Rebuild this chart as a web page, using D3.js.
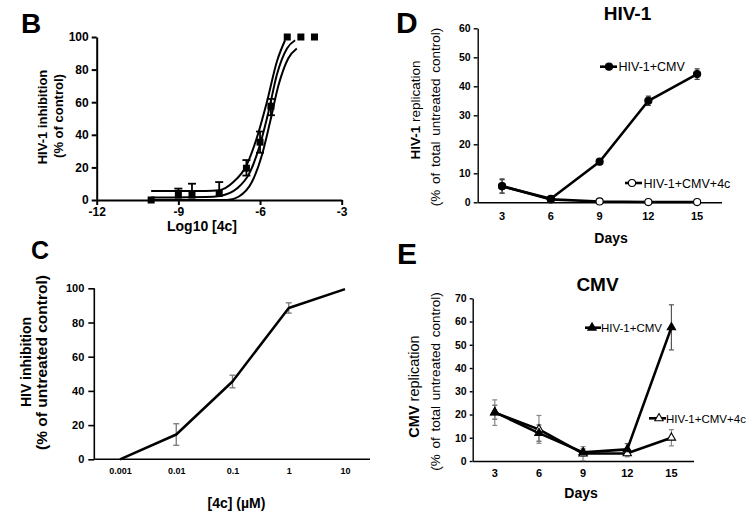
<!DOCTYPE html>
<html>
<head>
<meta charset="utf-8">
<script src="https://cdn.jsdelivr.net/npm/d3@7"></script>
<style>
  html, body { margin: 0; padding: 0; background: #fff; }
  svg { display: block; }
  text { font-family: 'Liberation Sans', Arial, sans-serif; fill: #000; }
</style>
</head>
<body>
<svg id="chart" width="750" height="523"></svg>
<script>
// ---------------- Panel B data ----------------
const bTickX = [-12, -9, -6, -3];
const bTickY = [0, 20, 40, 60, 80, 100];
const bLogConc = [-10, -9, -8.5, -7.5, -6.5, -6, -5.6, -5, -4.5, -4];
const bInhib   = [0, 3, 3, 4, 19.5, 35.5, 57.5, 100, 100, 100];
const bErrHi   = [null, 7, 10, 11, 24.5, 42, 62, null, null, null];
const bErrLo   = [null, null, null, null, 15, 29, 52, null, null, null];
const bFitX    = [-10, -8, -7.47, -6.85, -6.36, -6.0, -5.69, -5.38, -5.01, -4.71];
const bFitY    = [1.5, 1.8, 2.5, 7, 17.4, 34, 54, 77, 93, 98];
const bUpperX  = [-10, -8, -7.5, -6.98, -6.49, -6.12, -5.75, -5.38, -5.08];
const bUpperY  = [5.5, 5.5, 6, 11, 21.5, 38, 60, 85, 98];
const bLowerX  = [-10, -7.2, -6.79, -6.30, -5.93, -5.63, -5.32, -4.96, -4.65];
const bLowerY  = [0, 0, 2, 11, 27.6, 48, 70.5, 87, 93];

// ---------------- Panel C data ----------------
const cConc  = [0.001, 0.01, 0.1, 1, 10];
const cTickLabels = ["0.001", "0.01", "0.1", "1", "10"];
const cInhib = [0, 14.5, 45.5, 88.5, 99.5];
const cErr   = [null, 6.3, 3.7, 3, null];
const cTickY = [0, 20, 40, 60, 80, 100];

// ---------------- Panel D data ----------------
const days = ["3", "6", "9", "12", "15"];
const dHivCmv      = [5.5, 1.2, 14, 35, 44.2];
const dHivCmvErr   = [2.3, 0.5, 1, 1.6, 1.8];
const dHivCmv4c    = [5.6, 1.0, 0.3, 0.1, 0.1];
const dHivCmv4cErr = [2.5, 0.5, 0, 0, 0];
const dTickY = [0, 10, 20, 30, 40, 50, 60];

// ---------------- Panel E data ----------------
const eHivCmv      = [21, 12, 3.7, 5, 57.5];
const eHivCmvErr   = [3, 3.5, 1.5, 2.5, 9.7];
const eHivCmv4c    = [20.8, 13.6, 3.2, 3.3, 10];
const eHivCmv4cErr = [5.5, 6, 3, 1.5, 3.5];
const eTickY = [0, 10, 20, 30, 40, 50, 60, 70];

const legendNames = ["HIV-1+CMV", "HIV-1+CMV+4c"];

const svg = d3.select("#chart");

function styleAxis(g, sw, fs, bold) {
  g.select(".domain").attr("stroke", "#000").attr("stroke-width", sw);
  g.selectAll(".tick line").attr("stroke", "#000").attr("stroke-width", sw);
  g.selectAll(".tick text")
    .attr("font-family", "'Liberation Sans', Arial, sans-serif")
    .attr("font-size", fs)
    .attr("font-weight", bold ? "bold" : "normal")
    .attr("fill", "#000");
}

function panelLetter(txt, x, y, size) {
  svg.append("text").attr("x", x).attr("y", y).attr("font-size", size)
    .attr("font-weight", "bold").text(txt);
}

function vText(x, y, size, parts, extra) {
  const t = svg.append("text")
    .attr("transform", `translate(${x},${y}) rotate(-90)`)
    .attr("text-anchor", "middle")
    .attr("font-size", size);
  if (extra) extra(t);
  parts.forEach(p => t.append("tspan").attr("font-weight", p[1] ? "bold" : "normal").text(p[0]));
  return t;
}

// ================= Panel B =================
(function () {
  const x = d3.scaleLinear().domain([-12, -3]).range([96.7, 341.7]);
  const y = d3.scaleLinear().domain([0, 100]).range([200, 37]);

  const line = d3.line().x(d => x(d[0])).y(d => y(d[1])).curve(d3.curveMonotoneX);
  const curves = [
    d3.zip(bUpperX, bUpperY),
    d3.zip(bFitX, bFitY),
    d3.zip(bLowerX, bLowerY)
  ];
  svg.append("g").selectAll("path").data(curves).join("path")
    .attr("d", line).attr("fill", "none").attr("stroke", "#000").attr("stroke-width", 2);

  const pts = bLogConc.map((c, i) => ({ c, v: bInhib[i], hi: bErrHi[i], lo: bErrLo[i] }));
  const eg = svg.append("g").attr("stroke", "#000").attr("stroke-width", 1.8);
  pts.filter(p => p.hi != null).forEach(p => {
    const lo = p.lo != null ? p.lo : p.v;
    eg.append("line").attr("x1", x(p.c)).attr("x2", x(p.c)).attr("y1", y(p.hi)).attr("y2", y(lo));
    eg.append("line").attr("x1", x(p.c) - 4).attr("x2", x(p.c) + 4).attr("y1", y(p.hi)).attr("y2", y(p.hi));
    if (p.lo != null)
      eg.append("line").attr("x1", x(p.c) - 4).attr("x2", x(p.c) + 4).attr("y1", y(p.lo)).attr("y2", y(p.lo));
  });
  svg.append("g").selectAll("rect").data(pts).join("rect")
    .attr("x", d => x(d.c) - 3.5).attr("y", d => y(d.v) - 3.5)
    .attr("width", 7).attr("height", 7).attr("fill", "#000");

  const ya = svg.append("g").attr("transform", `translate(${x(-12)},0)`)
    .call(d3.axisLeft(y).tickValues(bTickY).tickSize(5).tickSizeOuter(0).tickPadding(3));
  styleAxis(ya, 2, 12, true);
  const xa = svg.append("g").attr("transform", `translate(0,${y(0)})`)
    .call(d3.axisBottom(x).tickValues(bTickX).tickSize(5).tickSizeOuter(0).tickPadding(2)
      .tickFormat(d => String(d)));
  styleAxis(xa, 2, 12, true);

  svg.append("text").attr("x", 202).attr("y", 231).attr("text-anchor", "middle")
    .attr("font-size", 14).attr("font-weight", "bold").text("Log10 [4c]");
  vText(47, 117, 13, [["HIV-1 inhibition", true]]);
  vText(63, 116, 13, [["(% of control)", true]]);
  panelLetter("B", 21, 33, 28);
})();

// ================= Panel C =================
(function () {
  const x = d3.scaleLog().domain([0.001, 10]).range([120, 345]);
  const y = d3.scaleLinear().domain([0, 100]).range([459.3, 288.3]);

  const ya = svg.append("g").attr("transform", `translate(94.3,0)`)
    .call(d3.axisLeft(y).tickValues(cTickY).tickSize(6).tickSizeOuter(0).tickPadding(4));
  styleAxis(ya, 1.6, 11, true);
  ya.select(".domain").attr("d", `M0,${y(100)}V${y(0)}`);

  const xa = svg.append("g").attr("transform", `translate(0,${y(0)})`)
    .call(d3.axisBottom(x).tickValues(cConc).tickSize(0).tickPadding(8.5)
      .tickFormat((d, i) => cTickLabels[i]));
  styleAxis(xa, 1.6, 9, true);
  xa.select(".domain").attr("d", `M94.3,0H370`);

  const pts = cConc.map((c, i) => ({ c, v: cInhib[i], e: cErr[i] }));
  const eg = svg.append("g").attr("stroke", "#777").attr("stroke-width", 1.3);
  pts.filter(p => p.e != null).forEach(p => {
    const cx = x(p.c);
    eg.append("line").attr("x1", cx).attr("x2", cx).attr("y1", y(p.v + p.e)).attr("y2", y(p.v - p.e));
    [p.v + p.e, p.v - p.e].forEach(v =>
      eg.append("line").attr("x1", cx - 3).attr("x2", cx + 3).attr("y1", y(v)).attr("y2", y(v)));
  });
  svg.append("path").datum(pts)
    .attr("d", d3.line().x(d => x(d.c)).y(d => y(d.v)))
    .attr("fill", "none").attr("stroke", "#000").attr("stroke-width", 2.5)
    .attr("stroke-linejoin", "round");

  svg.append("text").attr("x", 236.5).attr("y", 508).attr("text-anchor", "middle")
    .attr("font-size", 14).attr("font-weight", "bold").text("[4c] (µM)");
  vText(30.5, 362, 14, [["HIV inhibition", true]]);
  vText(46.5, 362.5, 15.5, [["(% of untreated control)", true]]);
  panelLetter("C", 31, 259, 25);
})();

// ============ helper for D & E ============
function timePanel(cfg) {
  const x = d3.scaleBand().domain(days).range(cfg.xr);
  const cx = d => x(d) + x.bandwidth() / 2;
  const y = d3.scaleLinear().domain(cfg.yd).range(cfg.yr);

  const ya = svg.append("g").attr("transform", `translate(${cfg.xr[0]},0)`)
    .call(d3.axisLeft(y).tickValues(cfg.ticks).tickSize(cfg.tickLen).tickSizeOuter(0).tickPadding(3));
  styleAxis(ya, 1.4, 10.5, true);
  const xa = svg.append("g").attr("transform", `translate(0,${cfg.yr[0]})`)
    .call(d3.axisBottom(x).tickSize(0).tickSizeOuter(0).tickPadding(cfg.xPad));
  styleAxis(xa, 1.4, 11, true);

  // error bars
  cfg.series.forEach(s => {
    const eg = svg.append("g").attr("stroke", s.errColor).attr("stroke-width", 1.2);
    s.values.forEach((v, i) => {
      const e = s.err[i];
      if (!e) return;
      const px = cx(days[i]);
      eg.append("line").attr("x1", px).attr("x2", px).attr("y1", y(v + e)).attr("y2", y(Math.max(0, v - e)));
      [v + e, Math.max(0, v - e)].forEach(w =>
        eg.append("line").attr("x1", px - 2.5).attr("x2", px + 2.5).attr("y1", y(w)).attr("y2", y(w)));
    });
  });
  // lines
  cfg.series.forEach(s => {
    svg.append("path").datum(s.values)
      .attr("d", d3.line().x((d, i) => cx(days[i])).y(d => y(d)))
      .attr("fill", "none").attr("stroke", "#000").attr("stroke-width", 2.6)
      .attr("stroke-linejoin", "round");
  });
  // markers
  const sym = d3.symbol().type(cfg.symbol).size(cfg.symSize);
  [...cfg.series].reverse().forEach(s => {
    svg.append("g").selectAll("path").data(s.values).join("path")
      .attr("transform", (d, i) => `translate(${cx(days[i])},${y(d)})`)
      .attr("d", sym).attr("fill", s.fill).attr("stroke", "#000").attr("stroke-width", 1.1);
  });
  // legends
  cfg.legends.forEach((L, k) => {
    const s = cfg.series[k];
    svg.append("line").attr("x1", L.x1).attr("x2", L.x2).attr("y1", L.y).attr("y2", L.y)
      .attr("stroke", "#000").attr("stroke-width", 2.6);
    svg.append("path").attr("transform", `translate(${L.mx},${L.y})`).attr("d", sym)
      .attr("fill", s.fill).attr("stroke", "#000").attr("stroke-width", 1.1);
    svg.append("text").attr("x", L.tx).attr("y", L.y + 4.6).attr("font-size", cfg.legendSize)
      .text(legendNames[k]);
  });
  // titles
  svg.append("text").attr("x", cfg.title.x).attr("y", cfg.title.y).attr("text-anchor", "middle")
    .attr("font-size", 19).attr("font-weight", "bold").text(cfg.title.t);
  svg.append("text").attr("x", cfg.days.x).attr("y", cfg.days.y).attr("text-anchor", "middle")
    .attr("font-size", 14).attr("font-weight", "bold").text("Days");
  vText(cfg.yt1.x, cfg.yt1.y, cfg.yt1.fs, [[cfg.virus, true], [" replication", false]]);
  vText(cfg.yt2.x, cfg.yt2.y, 13.5, [["(% of total untreated control)", false]],
    t => t.attr("word-spacing", 2));
  panelLetter(cfg.letter.t, cfg.letter.x, cfg.letter.y, 30);
}

// ================= Panel D =================
timePanel({
  xr: [477.7, 721.5], yd: [0, 60], yr: [202.3, 28.3], ticks: dTickY, tickLen: 4, xPad: 10,
  symbol: d3.symbolCircle, symSize: 40,
  series: [
    { values: dHivCmv, err: dHivCmvErr, fill: "#000", errColor: "#333" },
    { values: dHivCmv4c, err: dHivCmv4cErr, fill: "#fff", errColor: "#555" }
  ],
  legends: [
    { x1: 600, x2: 617, mx: 609, y: 66.7, tx: 618.5 },
    { x1: 625, x2: 642, mx: 632, y: 183, tx: 643.5 }
  ],
  legendSize: 12.5,
  title: { t: "HIV-1", x: 627.5, y: 20 },
  days: { x: 611, y: 243 },
  virus: "HIV-1",
  yt1: { x: 420, y: 110, fs: 13.5 },
  yt2: { x: 440, y: 117 },
  letter: { t: "D", x: 396, y: 33 }
});

// ================= Panel E =================
timePanel({
  xr: [472.7, 693.5], yd: [0, 70], yr: [461, 298.3], ticks: eTickY, tickLen: 3, xPad: 8,
  symbol: d3.symbolTriangle, symSize: 30,
  series: [
    { values: eHivCmv, err: eHivCmvErr, fill: "#000", errColor: "#555" },
    { values: eHivCmv4c, err: eHivCmv4cErr, fill: "#fff", errColor: "#888" }
  ],
  legends: [
    { x1: 585, x2: 601, mx: 592, y: 327.7, tx: 601 },
    { x1: 649, x2: 666, mx: 659, y: 418.3, tx: 666 }
  ],
  legendSize: 11.5,
  title: { t: "CMV", x: 597.5, y: 290.5 },
  days: { x: 581, y: 498 },
  virus: "CMV",
  yt1: { x: 419, y: 386.5, fs: 14.5 },
  yt2: { x: 440, y: 381.5 },
  letter: { t: "E", x: 397, y: 264 }
});
</script>
</body>
</html>
